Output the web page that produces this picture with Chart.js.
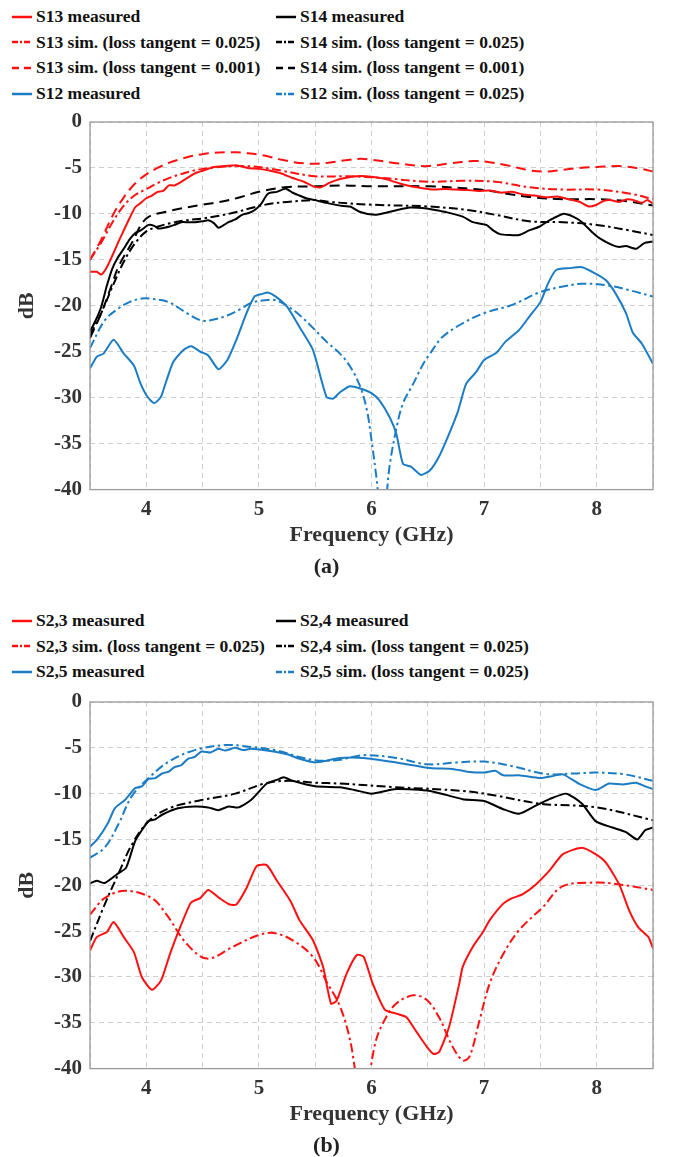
<!DOCTYPE html>
<html>
<head>
<meta charset="utf-8">
<script src="https://cdn.jsdelivr.net/npm/chart.js@4.4.1/dist/chart.umd.min.js"></script>
<style>
  html, body { margin: 0; padding: 0; background: #fff; overflow: hidden; }
  body { position: relative; width: 676px; height: 1157px; font-family: "Liberation Serif", "Times New Roman", serif; }
  canvas { position: absolute; left: 0; }
  .legend { position: absolute; left: 12px; display: grid; grid-template-columns: 264px auto; grid-auto-rows: 25.6px; }
  .item { display: flex; align-items: center; font-weight: bold; font-size: 17.5px; color: #111; white-space: nowrap; }
  .item svg { margin-right: 4px; flex: none; }
</style>
</head>
<body>
<div class="legend" id="legendA" style="top:4px"></div>
<canvas id="chartA" width="676" height="481" style="top:100px"></canvas>
<div class="legend" id="legendB" style="top:608px"></div>
<canvas id="chartB" width="676" height="480" style="top:680px"></canvas>
<script>
// ---- data (a) ----
const s13MeasF = [3.5, 3.56, 3.6, 3.65, 3.7, 3.75, 3.8, 3.85, 3.9, 3.95, 4.0, 4.05, 4.1, 4.15, 4.2, 4.25, 4.3, 4.35, 4.4, 4.45, 4.5, 4.55, 4.6, 4.7, 4.8, 4.9, 5.0, 5.1, 5.2, 5.3, 5.4, 5.48, 5.55, 5.63, 5.72, 5.8, 5.87, 5.95, 6.05, 6.15, 6.25, 6.35, 6.45, 6.55, 6.65, 6.75, 6.85, 6.95, 7.05, 7.15, 7.25, 7.35, 7.45, 7.55, 7.65, 7.75, 7.85, 7.93, 8.0, 8.06, 8.12, 8.2, 8.27, 8.33, 8.4, 8.45, 8.5];
const s13MeasDb = [-16.3, -16.3, -16.6, -15.8, -14.5, -13.1, -11.8, -10.5, -9.3, -8.8, -8.3, -8.0, -7.6, -7.5, -6.9, -6.9, -6.6, -6.2, -5.8, -5.5, -5.3, -5.1, -4.9, -4.8, -4.7, -5.0, -5.1, -5.3, -5.6, -6.1, -6.5, -7.0, -7.1, -6.6, -6.2, -6.0, -5.9, -5.9, -6.05, -6.3, -6.7, -7.0, -7.2, -7.35, -7.3, -7.35, -7.4, -7.5, -7.45, -7.7, -7.6, -7.9, -8.0, -8.2, -8.1, -8.4, -8.7, -9.2, -9.0, -8.6, -8.5, -8.7, -8.4, -8.5, -8.8, -8.5, -8.9];

const s13Sim025F = [3.5, 3.6, 3.7, 3.8, 3.9, 4.0, 4.1, 4.2, 4.3, 4.4, 4.5, 4.6, 4.8, 5.0, 5.2, 5.5, 5.8, 6.1, 6.5, 6.8, 7.1, 7.4, 7.7, 8.0, 8.3, 8.5];
const s13Sim025Db = [-15.0, -13.1, -10.9, -9.1, -7.95, -7.3, -6.65, -6.1, -5.7, -5.35, -5.1, -4.95, -4.8, -4.9, -5.3, -5.9, -5.9, -6.1, -6.5, -6.4, -6.5, -7.1, -7.35, -7.35, -7.8, -8.4];

const s13Sim001F = [3.5, 3.6, 3.7, 3.8, 3.9, 4.0, 4.1, 4.2, 4.3, 4.4, 4.5, 4.6, 4.7, 4.8, 4.9, 5.0, 5.1, 5.2, 5.3, 5.4, 5.5, 5.6, 5.75, 5.9, 6.0, 6.2, 6.4, 6.5, 6.7, 6.9, 7.0, 7.2, 7.4, 7.55, 7.7, 7.85, 8.0, 8.2, 8.4, 8.5];
const s13Sim001Db = [-15.0, -12.8, -10.2, -8.2, -6.7, -5.7, -5.0, -4.45, -4.05, -3.7, -3.5, -3.35, -3.3, -3.3, -3.4, -3.55, -3.8, -4.1, -4.35, -4.5, -4.55, -4.45, -4.2, -4.0, -4.1, -4.45, -4.75, -4.8, -4.5, -4.25, -4.3, -4.7, -5.25, -5.4, -5.2, -5.0, -4.9, -4.8, -5.1, -5.4];

const s14MeasF = [3.5, 3.55, 3.6, 3.65, 3.7, 3.75, 3.81, 3.85, 3.9, 3.95, 4.02, 4.07, 4.11, 4.16, 4.2, 4.25, 4.31, 4.37, 4.43, 4.5, 4.55, 4.6, 4.64, 4.69, 4.73, 4.79, 4.85, 4.91, 4.96, 5.02, 5.08, 5.16, 5.24, 5.3, 5.36, 5.42, 5.5, 5.6, 5.72, 5.81, 5.9, 6.03, 6.12, 6.22, 6.34, 6.49, 6.58, 6.66, 6.81, 6.9, 7.02, 7.08, 7.14, 7.22, 7.31, 7.4, 7.49, 7.58, 7.7, 7.79, 7.87, 7.96, 8.02, 8.14, 8.2, 8.26, 8.35, 8.42, 8.5];
const s14MeasDb = [-22.8, -21.6, -20.1, -17.8, -15.9, -14.7, -13.6, -12.8, -12.1, -11.8, -11.2, -11.3, -11.6, -11.5, -11.4, -11.2, -10.9, -10.9, -10.9, -10.8, -10.7, -11.0, -11.5, -11.2, -10.9, -10.6, -10.1, -9.9, -9.6, -8.9, -7.8, -7.6, -7.25, -7.7, -8.0, -8.3, -8.5, -8.8, -9.1, -9.2, -9.8, -10.1, -9.9, -9.6, -9.3, -9.4, -9.6, -9.8, -10.3, -10.9, -11.2, -11.8, -12.2, -12.3, -12.3, -11.8, -11.4, -10.7, -10.0, -10.3, -10.9, -12.0, -12.6, -13.4, -13.6, -13.5, -13.8, -13.2, -13.0];

const s14Sim025F = [3.5, 3.6, 3.7, 3.8, 3.9, 4.0, 4.1, 4.2, 4.35, 4.5, 4.65, 4.8, 4.95, 5.1, 5.25, 5.5, 5.63, 6.0, 6.52, 6.87, 7.1, 7.4, 7.7, 8.0, 8.29, 8.5];
const s14Sim025Db = [-23.2, -20.8, -17.9, -15.2, -13.2, -11.9, -11.4, -11.05, -10.7, -10.5, -10.2, -9.8, -9.3, -8.9, -8.7, -8.5, -8.7, -9.0, -9.2, -9.6, -10.1, -10.8, -10.9, -11.2, -11.8, -12.3];

const s14Sim001F = [3.5, 3.6, 3.7, 3.75, 3.87, 4.0, 4.2, 4.5, 4.65, 4.8, 5.0, 5.23, 5.5, 5.72, 6.0, 6.5, 6.96, 7.2, 7.4, 7.7, 8.0, 8.25, 8.5];
const s14Sim001Db = [-23.5, -20.8, -17.5, -15.8, -13.2, -10.5, -9.7, -9.0, -8.7, -8.3, -7.6, -7.1, -7.0, -6.9, -7.0, -7.0, -7.35, -7.8, -8.15, -8.4, -8.4, -8.6, -9.1];

const s12MeasF = [3.5, 3.56, 3.62, 3.71, 3.8, 3.89, 3.95, 4.01, 4.07, 4.13, 4.18, 4.24, 4.33, 4.4, 4.48, 4.55, 4.64, 4.72, 4.8, 4.89, 4.96, 5.03, 5.08, 5.15, 5.25, 5.36, 5.48, 5.6, 5.66, 5.72, 5.81, 5.9, 6.0, 6.07, 6.16, 6.22, 6.28, 6.35, 6.44, 6.52, 6.6, 6.69, 6.77, 6.84, 6.93, 7.0, 7.11, 7.19, 7.31, 7.4, 7.5, 7.57, 7.64, 7.76, 7.87, 7.99, 8.08, 8.17, 8.26, 8.32, 8.4, 8.5];
const s12MeasDb = [-26.8, -25.55, -25.2, -23.7, -25.2, -26.5, -28.5, -29.9, -30.6, -29.9, -28.1, -26.1, -24.8, -24.4, -25.0, -25.4, -26.9, -25.9, -23.7, -20.8, -19.0, -18.7, -18.55, -19.0, -20.1, -22.3, -24.8, -29.9, -30.1, -29.4, -28.75, -29.0, -29.5, -30.3, -32.1, -33.9, -37.2, -37.5, -38.4, -37.9, -36.4, -33.9, -31.4, -28.5, -27.2, -25.9, -25.1, -23.9, -22.65, -21.2, -19.6, -17.5, -16.1, -15.9, -15.8, -16.5, -17.2, -18.7, -20.8, -22.9, -24.1, -26.3];

const s12Sim025F = [3.5, 3.63, 3.75, 3.85, 3.96, 4.05, 4.2, 4.36, 4.49, 4.6, 4.73, 4.83, 4.93, 5.05, 5.15, 5.25, 5.36, 5.48, 5.6, 5.72, 5.81, 5.9, 5.96, 6.0, 6.04, 6.1, 6.16, 6.22, 6.28, 6.37, 6.46, 6.52, 6.63, 6.81, 7.0, 7.25, 7.5, 7.7, 7.87, 8.08, 8.29, 8.5];
const s12Sim025Db = [-24.6, -21.6, -20.3, -19.6, -19.2, -19.25, -19.6, -20.8, -21.6, -21.5, -21.0, -20.4, -19.7, -19.4, -19.4, -20.0, -21.0, -22.4, -23.9, -25.2, -26.6, -28.8, -31.4, -34.6, -38.3, -44, -37.5, -33.4, -30.6, -28.5, -26.3, -25.2, -23.4, -21.9, -20.8, -19.9, -18.5, -17.9, -17.6, -17.75, -18.3, -19.0];

// ---- data (b) ----
const s23MeasF = [3.5, 3.56, 3.65, 3.71, 3.8, 3.89, 3.96, 4.05, 4.13, 4.21, 4.3, 4.39, 4.42, 4.48, 4.55, 4.65, 4.74, 4.8, 4.89, 4.98, 5.07, 5.16, 5.28, 5.36, 5.48, 5.57, 5.64, 5.69, 5.78, 5.87, 5.93, 6.01, 6.12, 6.22, 6.31, 6.4, 6.49, 6.55, 6.6, 6.69, 6.78, 6.81, 6.9, 6.99, 7.05, 7.17, 7.25, 7.34, 7.46, 7.58, 7.7, 7.87, 7.99, 8.08, 8.2, 8.29, 8.37, 8.46, 8.5];
const s23MeasDb = [-27.1, -25.65, -25.1, -24.0, -25.65, -27.3, -30.0, -31.4, -30.4, -27.5, -24.6, -22.0, -21.7, -21.4, -20.5, -21.4, -22.1, -22.1, -20.3, -17.9, -17.8, -19.5, -21.7, -23.8, -26.0, -28.9, -32.9, -32.6, -29.6, -27.6, -27.8, -30.7, -33.6, -34.0, -34.4, -36.0, -37.6, -38.4, -38.2, -35.4, -30.7, -28.9, -26.7, -25.1, -23.8, -22.0, -21.4, -21.0, -19.9, -18.4, -16.6, -15.9, -16.6, -17.5, -19.9, -22.8, -24.6, -25.65, -26.9];

const s23SimF = [3.5, 3.63, 3.81, 4.05, 4.18, 4.36, 4.54, 4.77, 4.98, 5.13, 5.3, 5.48, 5.6, 5.72, 5.81, 5.92, 6.04, 6.13, 6.22, 6.37, 6.49, 6.6, 6.72, 6.81, 6.87, 6.96, 7.05, 7.17, 7.31, 7.52, 7.7, 7.99, 8.2, 8.5];
const s23SimDb = [-23.2, -21.4, -20.6, -21.4, -23.2, -26.4, -28.0, -26.7, -25.5, -25.2, -26.0, -27.8, -30.5, -33.2, -36.9, -44, -36.9, -34.4, -32.9, -32.0, -32.5, -34.4, -37.6, -39.1, -38.7, -34.7, -30.7, -27.5, -24.9, -22.4, -20.1, -19.7, -19.9, -20.5];

const s24MeasF = [3.5, 3.56, 3.63, 3.75, 3.82, 3.9, 3.96, 4.02, 4.08, 4.14, 4.28, 4.43, 4.55, 4.64, 4.73, 4.82, 4.93, 5.07, 5.16, 5.22, 5.3, 5.5, 5.72, 5.85, 6.0, 6.22, 6.52, 6.81, 7.0, 7.17, 7.31, 7.46, 7.58, 7.73, 7.87, 7.99, 8.14, 8.26, 8.36, 8.43, 8.5];
const s24MeasDb = [-19.8, -19.5, -19.75, -18.7, -18.1, -15.2, -14.0, -13.0, -12.8, -12.3, -11.6, -11.4, -11.5, -11.8, -11.4, -11.5, -10.7, -8.9, -8.5, -8.2, -8.6, -9.2, -9.3, -9.6, -10.0, -9.5, -9.7, -10.6, -10.8, -11.7, -12.2, -11.3, -10.6, -10.0, -11.1, -13.0, -13.7, -14.2, -15.0, -14.0, -13.7];

const s24SimF = [3.5, 3.63, 3.75, 3.87, 4.02, 4.2, 4.49, 4.79, 5.05, 5.25, 5.5, 5.72, 6.22, 6.81, 7.1, 7.5, 8.0, 8.5];
const s24SimDb = [-26.1, -22.1, -18.8, -15.6, -13.0, -11.6, -10.7, -10.0, -8.9, -8.6, -8.8, -8.9, -9.3, -9.7, -10.2, -11.1, -11.5, -12.9];

const s25MeasF = [3.5, 3.57, 3.66, 3.72, 3.81, 3.9, 3.96, 4.02, 4.08, 4.14, 4.2, 4.25, 4.31, 4.37, 4.43, 4.49, 4.57, 4.64, 4.7, 4.79, 4.86, 4.93, 5.07, 5.25, 5.36, 5.5, 5.6, 5.72, 5.93, 6.22, 6.52, 6.72, 6.85, 7.0, 7.1, 7.17, 7.31, 7.5, 7.6, 7.7, 7.84, 7.99, 8.11, 8.23, 8.35, 8.43, 8.5];
const s25MeasDb = [-15.8, -14.9, -13.2, -11.6, -10.7, -9.4, -9.2, -8.4, -8.3, -7.8, -7.6, -7.1, -6.9, -6.2, -6.0, -5.4, -5.5, -5.1, -5.3, -5.0, -5.25, -5.1, -5.3, -5.7, -6.2, -6.6, -6.4, -6.1, -6.1, -6.6, -7.2, -7.3, -7.6, -7.7, -7.5, -8.0, -8.0, -8.3, -8.1, -7.9, -8.9, -9.6, -8.9, -9.0, -8.8, -9.2, -9.5];

const s25SimF = [3.5, 3.63, 3.75, 3.87, 4.02, 4.2, 4.43, 4.7, 4.93, 5.16, 5.36, 5.53, 5.72, 5.93, 6.22, 6.5, 6.75, 7.0, 7.25, 7.55, 7.8, 8.0, 8.25, 8.5];
const s25SimDb = [-17.0, -15.9, -13.4, -10.3, -8.3, -6.5, -5.25, -4.7, -4.9, -5.3, -6.0, -6.4, -6.3, -5.8, -6.1, -6.8, -6.6, -6.5, -7.0, -7.85, -7.8, -7.7, -7.9, -8.6];

// axis ticks
const yTicks = [0, -5, -10, -15, -20, -25, -30, -35, -40];
const xLabels = [4, 5, 6, 7, 8];

const RED = '#ff1010', BLACK = '#000000', BLUE = '#1b7cc4';
const SOLID = [], DASHED = [10, 6], DASHDOT = [9, 3.5, 2.5, 3.5];
const FONT = '"Liberation Serif", "Times New Roman", serif';

function series(label, f, db, color, dash) {
  return {
    label: label,
    data: f.map((x, i) => ({ x: x, y: db[i] })),
    borderColor: color,
    borderWidth: 2,
    borderDash: dash,
    pointRadius: 0,
    tension: dash.length ? 0.35 : 0.2,
    fill: false
  };
}

const datasetsA = [
  series('S13 measured', s13MeasF, s13MeasDb, RED, SOLID),
  series('S14 measured', s14MeasF, s14MeasDb, BLACK, SOLID),
  series('S13 sim. (loss tangent = 0.025)', s13Sim025F, s13Sim025Db, RED, DASHDOT),
  series('S14 sim. (loss tangent = 0.025)', s14Sim025F, s14Sim025Db, BLACK, DASHDOT),
  series('S13 sim. (loss tangent = 0.001)', s13Sim001F, s13Sim001Db, RED, DASHED),
  series('S14 sim. (loss tangent = 0.001)', s14Sim001F, s14Sim001Db, BLACK, DASHED),
  series('S12 measured', s12MeasF, s12MeasDb, BLUE, SOLID),
  series('S12 sim. (loss tangent = 0.025)', s12Sim025F, s12Sim025Db, BLUE, DASHDOT)
];

const datasetsB = [
  series('S2,3 measured', s23MeasF, s23MeasDb, RED, SOLID),
  series('S2,4 measured', s24MeasF, s24MeasDb, BLACK, SOLID),
  series('S2,3 sim. (loss tangent = 0.025)', s23SimF, s23SimDb, RED, DASHDOT),
  series('S2,4 sim. (loss tangent = 0.025)', s24SimF, s24SimDb, BLACK, DASHDOT),
  series('S2,5 measured', s25MeasF, s25MeasDb, BLUE, SOLID),
  series('S2,5 sim. (loss tangent = 0.025)', s25SimF, s25SimDb, BLUE, DASHDOT)
];

// box around the plot, like matlab "box on"
const frame = {
  id: 'frame',
  afterDatasetsDraw(chart) {
    const { ctx, chartArea: a } = chart;
    ctx.save();
    ctx.strokeStyle = '#9a9a9a';
    ctx.lineWidth = 1.3;
    ctx.strokeRect(a.left, a.top, a.right - a.left, a.bottom - a.top);
    ctx.restore();
  }
};

function makeChart(id, datasets, caption) {
  return new Chart(document.getElementById(id), {
    type: 'line',
    data: { datasets: datasets },
    plugins: [frame],
    options: {
      responsive: false,
      animation: false,
      devicePixelRatio: 1,
      layout: { padding: { top: 22, right: 23, left: 0, bottom: 0 } },
      plugins: {
        legend: { display: false },
        tooltip: { enabled: false },
        title: {
          display: true,
          position: 'bottom',
          text: caption,
          color: '#222',
          font: { family: FONT, size: 22, weight: 'bold' },
          padding: { top: 3, bottom: 0 }
        }
      },
      scales: {
        x: {
          type: 'linear',
          min: 3.5,
          max: 8.5,
          afterFit: s => { s.height = 62; },
          afterBuildTicks: s => { s.ticks = []; for (let v = 3.5; v <= 8.5001; v += 0.5) s.ticks.push({ value: v }); },
          ticks: {
            autoSkip: false,
            maxRotation: 0,
            padding: 7,
            color: '#333',
            font: { family: FONT, size: 21, weight: 'bold' },
            callback: v => xLabels.includes(v) ? String(v) : ''
          },
          grid: { color: '#cfcfcf', lineWidth: 1, drawTicks: false },
          border: { display: false, dash: [5, 4] },
          title: {
            display: true,
            text: 'Frequency (GHz)',
            color: '#333',
            font: { family: FONT, size: 22, weight: 'bold' },
            padding: { top: 0, bottom: 3 }
          }
        },
        y: {
          min: -40,
          max: 0,
          afterFit: s => { s.width = 90; },
          afterBuildTicks: s => { s.ticks = yTicks.slice().reverse().map(v => ({ value: v })); },
          ticks: {
            padding: 8,
            color: '#333',
            font: { family: FONT, size: 21, weight: 'bold' }
          },
          grid: { color: '#cfcfcf', lineWidth: 1, drawTicks: false },
          border: { display: false, dash: [5, 4] },
          title: {
            display: true,
            text: 'dB',
            color: '#333',
            font: { family: FONT, size: 22, weight: 'bold' },
            padding: { top: 14, bottom: 0 }
          }
        }
      }
    }
  });
}

function buildLegend(el, datasets) {
  datasets.forEach(d => {
    const item = document.createElement('div');
    item.className = 'item';
    const dash = d.borderDash.length ? (d.borderDash === DASHED ? '7,5' : '6,2,2,2') : 'none';
    item.innerHTML = '<svg width="20" height="6"><line x1="0" y1="3" x2="20" y2="3" stroke="' + d.borderColor +
      '" stroke-width="2.5" stroke-dasharray="' + dash + '"/></svg><span>' + d.label + '</span>';
    el.appendChild(item);
  });
}

makeChart('chartA', datasetsA, '(a)');
makeChart('chartB', datasetsB, '(b)');
buildLegend(document.getElementById('legendA'), datasetsA);
buildLegend(document.getElementById('legendB'), datasetsB);
</script>
</body>
</html>
